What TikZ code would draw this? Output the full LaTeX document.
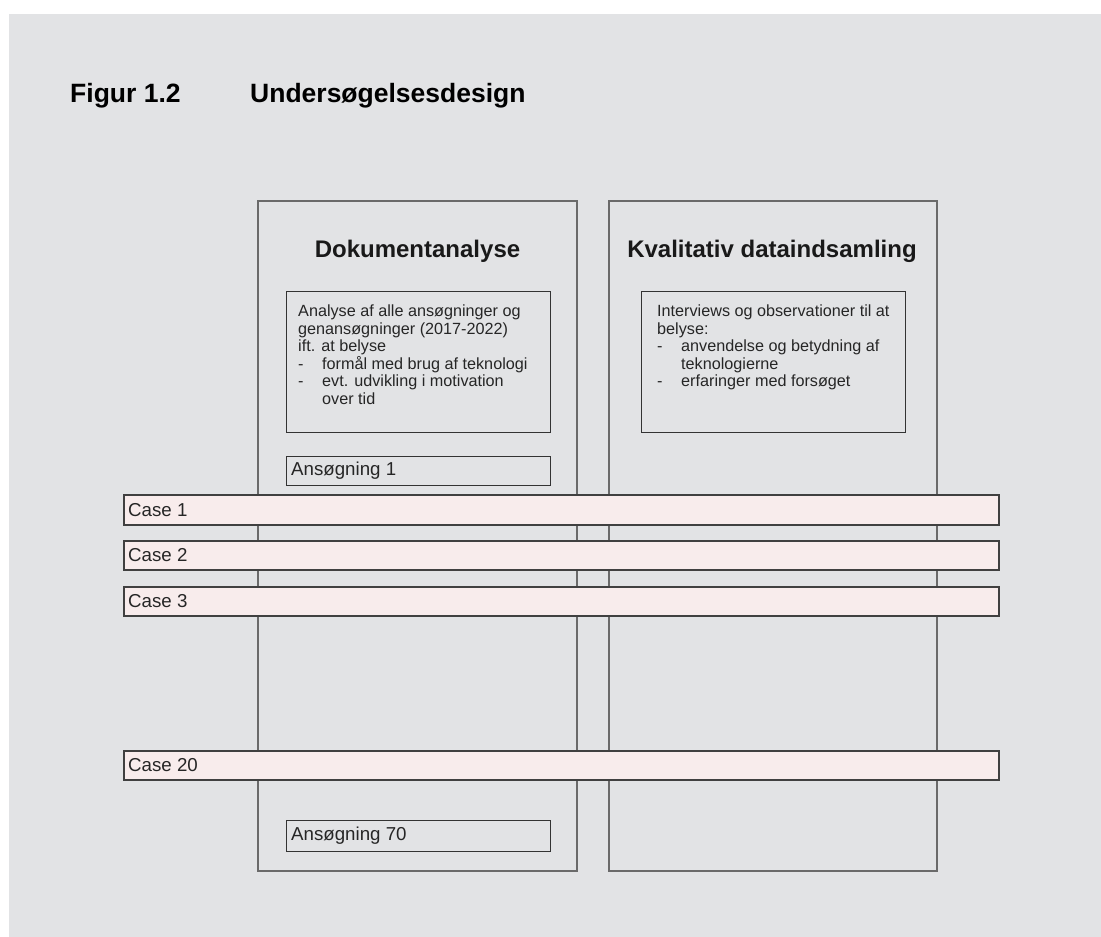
\documentclass[tikz,border=0pt]{standalone}
\usepackage{fontspec}
\setmainfont{Liberation Sans}
\definecolor{bgc}{HTML}{E2E3E5}
\definecolor{casefill}{HTML}{F8ECEC}
\definecolor{boxline}{HTML}{6A6A6A}
\begin{document}
\begin{tikzpicture}[x=1pt,y=-1pt,
  bigbox/.style={draw=boxline, line width=1.8pt, minimum width=#1, minimum height=670pt, inner sep=0pt},
  innerbox/.style={draw=black!80, line width=1pt, minimum width=264pt, inner sep=0pt},
  casebar/.style={draw=black!75, line width=1.2pt, fill=casefill, minimum width=875pt, minimum height=#1, inner sep=0pt},
  headtxt/.style={font=\fontsize{24}{28}\selectfont\bfseries, text=black!90},
  bodytxt/.style={font=\fontsize{16.2}{17.5}\selectfont, text=black!85, align=left, inner sep=0pt},
  casetxt/.style={font=\fontsize{18.7}{21}\selectfont, text=black!85, inner sep=0pt},
  titletxt/.style={font=\fontsize{26.5}{30}\selectfont\bfseries, inner sep=0pt}
]
\useasboundingbox (0,0) rectangle (1101,937);
\fill[white] (0,0) rectangle (1101,937);
\fill[bgc] (9,14) rectangle (1101,937);

% title
\node[titletxt, anchor=base west] (fig) at (70,102) {Figur 1.2};
\node[titletxt, anchor=base west] (ttl) at (250,102) {Undersøgelsesdesign};

% big column boxes
\node[bigbox=319pt] (left) at (417.5,536) {};
\node[bigbox=328pt] (right) at (773,536) {};

\node[headtxt] (lhead) at (417.5,251) {Dokumentanalyse};
\node[headtxt] (rhead) at (772,251) {Kvalitativ dataindsamling};

% inner description boxes
\node[innerbox, minimum height=141pt] (ldesc) at (418,361.5) {};
\node[innerbox, minimum height=141pt] (rdesc) at (773,361.5) {};

\node[bodytxt, anchor=north west] (ltext) at (298,305) {%
Analyse af alle ansøgninger og\\
genansøgninger (2017-2022)\\
ift. at belyse\\
\makebox[24pt][l]{-}formål med brug af teknologi\\
\makebox[24pt][l]{-}evt. udvikling i motivation\\
\hspace*{24pt}over tid};

\node[bodytxt, anchor=north west] (rtext) at (657,305) {%
Interviews og observationer til at\\
belyse:\\
\makebox[24pt][l]{-}anvendelse og betydning af\\
\hspace*{24pt}teknologierne\\
\makebox[24pt][l]{-}erfaringer med forsøget};

% application boxes
\node[innerbox, minimum height=29pt] (ans1) at (418,470.5) {};
\node[casetxt, anchor=west] (ans1t) at (291,470.5) {Ansøgning 1};
\node[innerbox, minimum height=31pt] (ans70) at (418,835.5) {};
\node[casetxt, anchor=west] (ans70t) at (291,835.5) {Ansøgning 70};

% case bars
\node[casebar=30pt] (c1) at (561.5,510) {};
\node[casebar=29pt] (c2) at (561.5,555.5) {};
\node[casebar=29pt] (c3) at (561.5,601.5) {};
\node[casebar=29pt] (c20) at (561.5,765.5) {};
\node[casetxt, anchor=west] (c1t) at (128,510) {Case 1};
\node[casetxt, anchor=west] (c2t) at (128,555.5) {Case 2};
\node[casetxt, anchor=west] (c3t) at (128,601.5) {Case 3};
\node[casetxt, anchor=west] (c20t) at (128,765.5) {Case 20};
\end{tikzpicture}
\end{document}
